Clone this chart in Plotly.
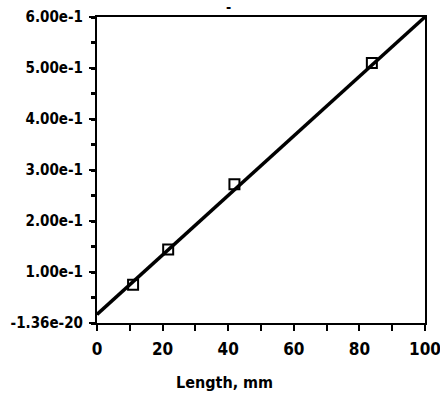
import plotly.graph_objects as go

length_mm = [11, 21.7, 41.9, 83.8]
measured = [0.075, 0.144, 0.272, 0.51]
fit_x = [0, 100]
fit_y = [0.017, 0.6]
y_tickvals = [0, 0.1, 0.2, 0.3, 0.4, 0.5, 0.6]
y_ticktext = ["-1.36e-20", "1.00e-1", "2.00e-1", "3.00e-1", "4.00e-1", "5.00e-1", "6.00e-1"]
x_tickvals = [0, 20, 40, 60, 80, 100]

font_family = "DejaVu Sans Condensed, Liberation Sans Narrow, Arial Narrow, Liberation Sans"

fig = go.Figure()
fig.add_trace(go.Scatter(x=fit_x, y=fit_y, mode="lines",
                         line=dict(color="black", width=3.5), showlegend=False,
                         cliponaxis=False))
fig.add_trace(go.Scatter(x=length_mm, y=measured, mode="markers",
                         marker=dict(symbol="square-open", size=10, color="black",
                                     line=dict(width=2, color="black")),
                         showlegend=False))

fig.update_layout(
    width=440, height=395,
    margin=dict(l=97, r=15, t=17, b=72),
    paper_bgcolor="white", plot_bgcolor="white",
    font=dict(family=font_family, size=14, color="black", weight="bold"),
    xaxis=dict(range=[0, 100], tickvals=x_tickvals, ticks="outside", ticklen=6,
               tickwidth=2, tickcolor="black", showline=True, linecolor="black",
               linewidth=2, mirror=True, showgrid=False, zeroline=False,
               automargin=False, ticklabelstandoff=4, ticklabeloverflow="allow",
               tickfont=dict(family=font_family, size=17, weight="bold"),
               minor=dict(dtick=10, ticks="outside", ticklen=6, tickwidth=2, tickcolor="black")),
    yaxis=dict(range=[0, 0.6], tickvals=y_tickvals, ticktext=y_ticktext,
               ticks="outside", ticklen=6, tickwidth=2, tickcolor="black",
               showline=True, linecolor="black", linewidth=2, mirror=True,
               showgrid=False, zeroline=False, automargin=False,
               ticklabelstandoff=3, ticklabeloverflow="allow",
               tickfont=dict(family=font_family, size=15, weight="bold"),
               minor=dict(dtick=0.05, ticks="outside", ticklen=4, tickwidth=3, tickcolor="black")),
    annotations=[
        dict(text="Length, mm", xref="paper", yref="paper", x=0.39, y=-0.193,
             xanchor="center", yanchor="middle", showarrow=False,
             font=dict(family=font_family, size=16, weight="bold")),
        dict(text="-", xref="paper", yref="paper", x=0.40, y=1.033,
             xanchor="center", yanchor="middle", showarrow=False,
             font=dict(family=font_family, size=14, weight="bold")),
    ],
)

fig.write_html("out.html", config={"displayModeBar": False},
               post_script="document.body.style.margin='0px';")
